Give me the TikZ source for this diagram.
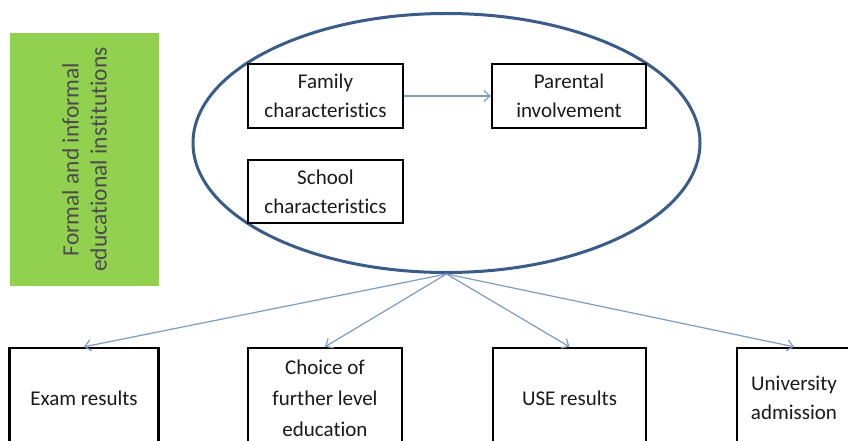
\documentclass[tikz,border=0pt]{standalone}
\usepackage{fontspec}
\setmainfont{Carlito}[Ligatures=NoCommon]
\usetikzlibrary{shapes.geometric,arrows.meta}

\definecolor{leafgreen}{HTML}{92D050}
\definecolor{ringblue}{HTML}{3A5C88}
\definecolor{linkblue}{HTML}{7D9CC6}
\definecolor{inkgrey}{HTML}{1A1A1A}

\begin{document}
\begin{tikzpicture}[x=1pt,y=-1pt,
        box/.style={draw=black,line width=2.4pt,fill=white,inner sep=0pt,
            align=center,text=inkgrey,font=\fontsize{21}{29}\selectfont},
        sidebar/.style={fill=leafgreen,inner sep=0pt,align=center,text=black!70,
            font=\fontsize{23.5}{28}\selectfont},
        ring/.style={draw=ringblue,line width=3pt,ellipse,inner sep=0pt},
        link/.style={draw=linkblue,line width=1.2pt,
            -{Straight Barb[length=6pt,width=11pt]}}]
        \useasboundingbox (0,0) rectangle (848,441);
        \clip (0,0) rectangle (848,441);
        \fill[white] (0,0) rectangle (848,441);

        % left side label
        \node[sidebar,rotate=90,minimum width=253,minimum height=149] (inst)
            at (84.5,159.5) {Formal and informal\\educational institutions};

        % the surrounding ring and what sits inside it
        \node[ring,minimum width=507,minimum height=259] (env) at (446.5,143) {};
        \node[box,minimum width=155,minimum height=64] (family) at (325.5,96)
            {Family\\characteristics};
        \node[box,minimum width=154,minimum height=64] (parent) at (569,96)
            {Parental\\involvement};
        \node[box,minimum width=155,minimum height=63] (school) at (325.5,191.5)
            {School\\characteristics};
        \draw[link] (family) -- (parent);

        % outcome boxes along the bottom
        \foreach \x/\w/\name/\txt in {84/149/exam/Exam results,
                325/154/choice/{Choice of\\[2pt]further level\\[2pt]education},
                569.5/153/use/USE results,
                794/114/univ/{University\\admission}} {
            \node[box,minimum width=\w,minimum height=100] (\name) at (\x,398) {\txt};
            \draw[link] (env.south) -- (\name.north);
        }
    \end{tikzpicture}
\end{document}
